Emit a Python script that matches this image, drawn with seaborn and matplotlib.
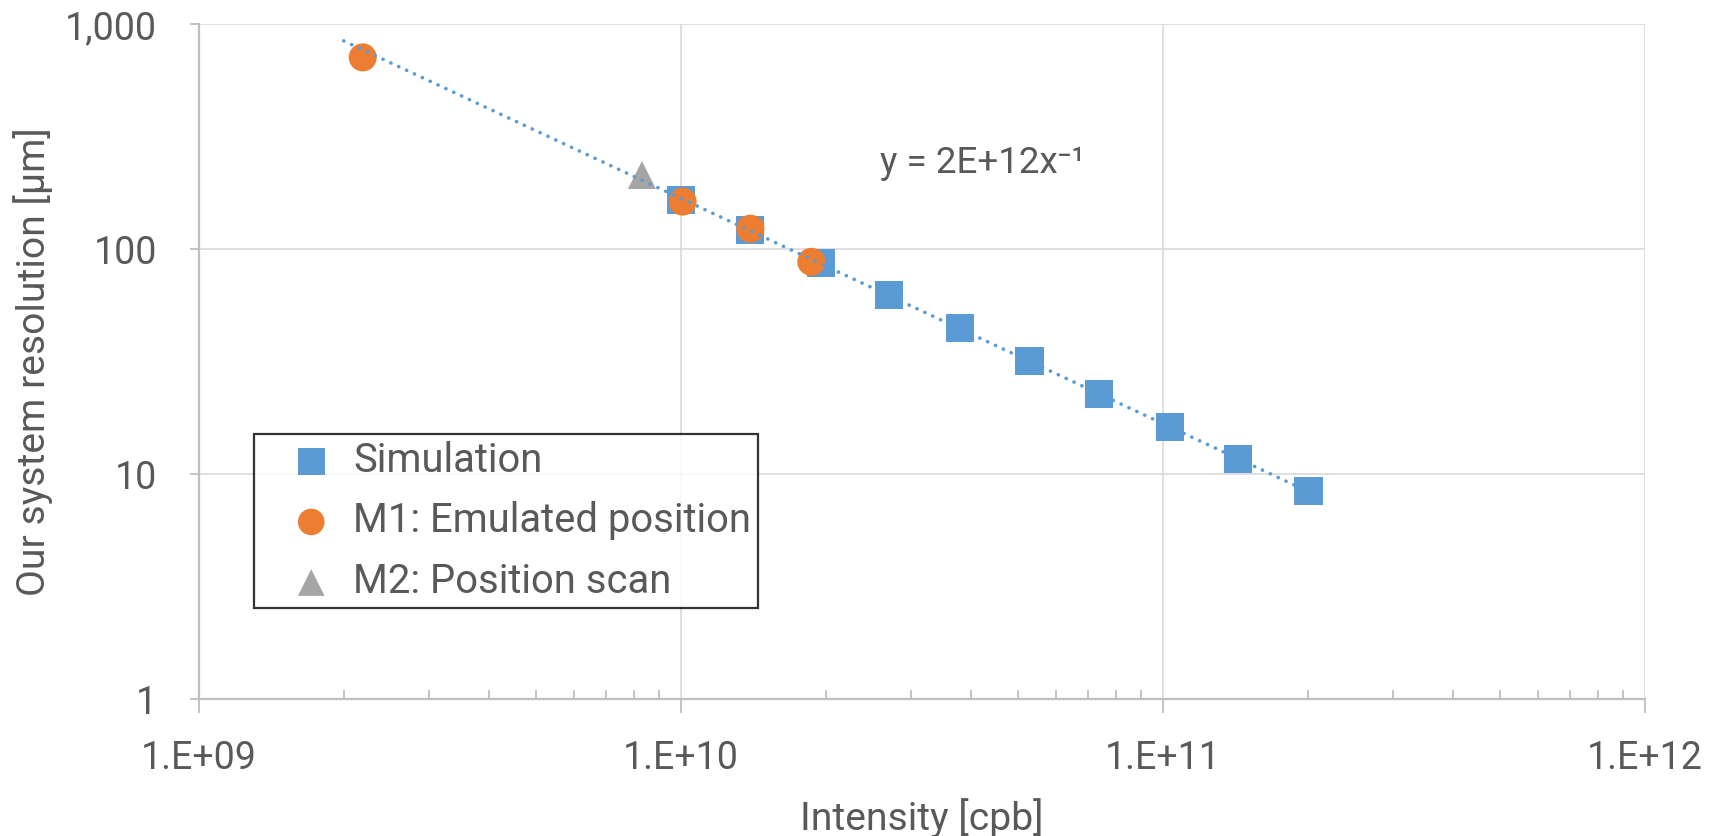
import numpy as np
import pandas as pd
import matplotlib
matplotlib.use("Agg")
import matplotlib.pyplot as plt
from matplotlib.ticker import FuncFormatter, LogLocator, NullLocator
import seaborn as sns

# values
sim_intensity = [1.00e10, 1.395e10, 1.955e10, 2.71e10, 3.79e10, 5.29e10, 7.36e10, 1.033e11, 1.432e11, 2.005e11]
sim_resolution = [165.6, 121.8, 86.6, 62.8, 44.5, 31.8, 22.7, 16.2, 11.7, 8.4]
m1_intensity = [2.19e9, 1.009e10, 1.395e10, 1.866e10]
m1_resolution = [713, 163, 123.5, 88]
m2_intensity = [8.31e9]
m2_resolution = [214]
trend_start = 2.0e9
trend_label = "y = 2E+12x\u207B\u00B9"

sim_color = "#5B9BD5"
m1_color = "#ED7D31"
m2_color = "#A5A5A5"
text_color = "#595959"

sns.set_theme(style="white")
plt.rcParams["font.family"] = ["Roboto", "DejaVu Sans"]

fig = plt.figure(figsize=(17.21, 8.36), dpi=100)
ax = fig.add_axes([0.1154, 0.1635, 0.8404, 0.8074])

sim = pd.DataFrame({"x": sim_intensity, "y": sim_resolution})
m1 = pd.DataFrame({"x": m1_intensity, "y": m1_resolution})
m2 = pd.DataFrame({"x": m2_intensity, "y": m2_resolution})

msize = 408
sns.scatterplot(data=sim, x="x", y="y", marker="s", s=msize, color=sim_color,
                edgecolor="none", label="Simulation", ax=ax, zorder=3)
sns.scatterplot(data=m1, x="x", y="y", marker="o", s=msize, color=m1_color,
                edgecolor="none", label="M1: Emulated position", ax=ax, zorder=4)
sns.scatterplot(data=m2, x="x", y="y", marker="^", s=msize, color=m2_color,
                edgecolor="none", label="M2: Position scan", ax=ax, zorder=4)

# power-law trendline fitted to the simulation series (log-log)
slope, icpt = np.polyfit(np.log10(sim_intensity), np.log10(sim_resolution), 1)
tx = np.logspace(np.log10(trend_start), np.log10(max(sim_intensity)), 200)
ty = 10 ** icpt * tx ** slope
ax.plot(tx, ty, color=sim_color, lw=2.6, linestyle=(0, (0.05, 2.35)),
        dash_capstyle="round", zorder=5)

ax.set_xscale("log")
ax.set_yscale("log")
ax.set_xlim(1e9, 1e12)
ax.set_ylim(1, 1000)

ax.xaxis.set_major_locator(LogLocator(base=10, numticks=10))
ax.xaxis.set_minor_locator(LogLocator(base=10, subs=np.arange(2, 10), numticks=20))
ax.yaxis.set_major_locator(LogLocator(base=10, numticks=10))
ax.yaxis.set_minor_locator(NullLocator())
ax.xaxis.set_major_formatter(FuncFormatter(lambda v, p: "1.E+%02d" % round(np.log10(v))))
ax.yaxis.set_major_formatter(FuncFormatter(lambda v, p: f"{v:,.0f}"))

ax.grid(True, which="major", color="#D9D9D9", lw=1.2)
for side in ["top", "right"]:
    ax.spines[side].set_visible(False)
for side in ["left", "bottom"]:
    ax.spines[side].set_color("#BFBFBF")
    ax.spines[side].set_linewidth(1.65)

ax.tick_params(axis="x", which="major", direction="out", length=9.9, width=1.3,
               color="#BFBFBF", pad=19.4, labelsize=27, labelcolor=text_color, bottom=True)
ax.tick_params(axis="x", which="minor", direction="in", length=6.7, width=1.3,
               color="#BFBFBF", bottom=True)
ax.tick_params(axis="y", which="major", direction="out", length=6.5, width=1.3,
               color="#BFBFBF", pad=23.5, labelsize=27, labelcolor=text_color, left=True)

ax.set_xlabel("Intensity [cpb]", fontsize=28.2, color=text_color, va="center")
ax.set_ylabel("Our system resolution [μm]", fontsize=28.2, color=text_color, va="center")
ax.xaxis.set_label_coords(0.5, -0.176)
ax.yaxis.set_label_coords(-0.1148, 0.5)

ax.text(2.593e10, 218.9, trend_label, fontsize=26.5, color=text_color,
        va="baseline", ha="left")

leg = ax.legend(loc="upper left", bbox_to_anchor=(0.0386, 0.393), borderaxespad=0,
                fontsize=28.8, frameon=True, fancybox=False, edgecolor="black",
                markerscale=0.95, handlelength=2.5, handletextpad=-0.2,
                borderpad=0.17, labelspacing=0.54)
leg.get_frame().set_linewidth(1.6)
for t in leg.get_texts():
    t.set_color(text_color)

fig.savefig("out.png", dpi=100)
